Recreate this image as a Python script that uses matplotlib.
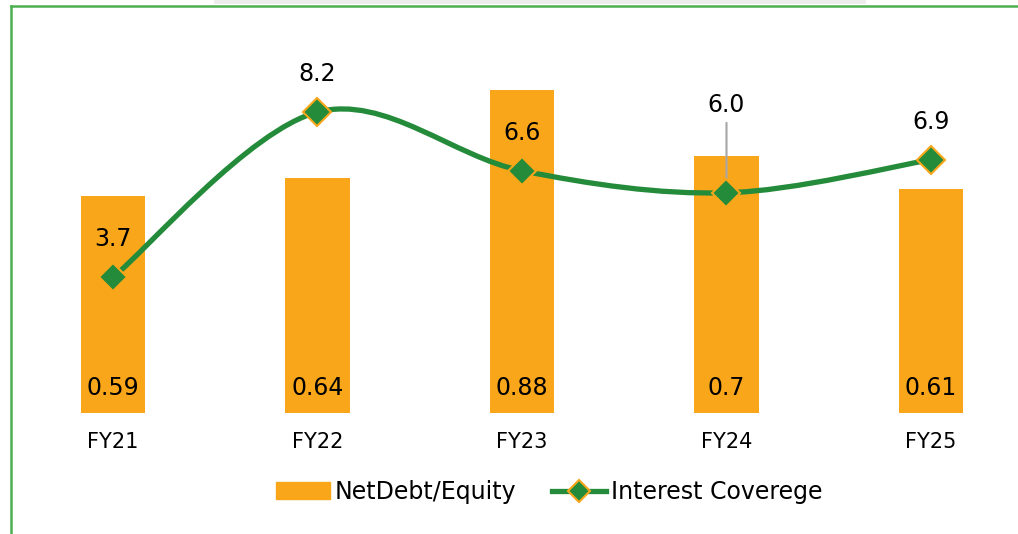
import numpy as np
import matplotlib.pyplot as plt
from matplotlib.path import Path
from matplotlib.patches import PathPatch, Patch, Rectangle
from matplotlib.lines import Line2D

# chart data
years = ["FY21", "FY22", "FY23", "FY24", "FY25"]
net_debt_equity = [0.59, 0.64, 0.88, 0.7, 0.61]
debt_labels = ["0.59", "0.64", "0.88", "0.7", "0.61"]
interest_cover = [3.7, 8.2, 6.6, 6.0, 6.9]

bar_color = "#F9A61A"
line_color = "#238B3A"

W, H = 1018, 534
fig = plt.figure(figsize=(W / 100, H / 100), dpi=100)

# axes placed so the category centres land where they are in the picture
ax = fig.add_axes([0, 1 - 413 / H, 1, (413 - 20) / H])
ax2 = ax.twinx()
x = np.arange(len(years))

ax.bar(x, net_debt_equity, width=0.313, color=bar_color, zorder=2)
ax.set_xlim(-113 / 204.5, (W - 113) / 204.5)
ax.set_ylim(0, 393 / 367)
ax2.set_ylim(0, 393 / 36.7)

for i, lab in enumerate(debt_labels):
    ax.annotate(lab, (x[i], 0), xytext=(0, 18), textcoords="offset points",
                ha="center", va="center", fontsize=17, color="black")

# smoothed line (Excel-style Catmull-Rom bezier through the points)
pts = np.column_stack([x, interest_cover]).astype(float)
verts = [pts[0]]
codes = [Path.MOVETO]
for i in range(len(pts) - 1):
    p0 = pts[i - 1] if i > 0 else pts[i]
    p1, p2 = pts[i], pts[i + 1]
    p3 = pts[i + 2] if i + 2 < len(pts) else pts[i + 1]
    verts += [p1 + (p2 - p0) / 6, p2 - (p3 - p1) / 6, p2]
    codes += [Path.CURVE4] * 3
ax2.add_patch(PathPatch(Path(verts, codes), facecolor="none", edgecolor=line_color,
                        lw=3.8, capstyle="round", zorder=3))
ax2.plot(x, interest_cover, ls="none", marker="D", ms=14, mfc=line_color,
         mec=bar_color, mew=1.5, zorder=4)

for i, v in enumerate(interest_cover):
    if years[i] == "FY24":
        ax2.annotate(f"{v:.1f}", (x[i], v), xytext=(0, 63), textcoords="offset points",
                     ha="center", va="center", fontsize=17,
                     arrowprops=dict(arrowstyle="-", color="#A6A6A6", lw=1.5,
                                     shrinkA=2, shrinkB=0))
    else:
        ax2.annotate(f"{v:.1f}", (x[i], v), xytext=(0, 27.5), textcoords="offset points",
                     ha="center", va="center", fontsize=17)

for a in (ax, ax2):
    for s in a.spines.values():
        s.set_visible(False)
    a.tick_params(left=False, right=False, bottom=False, labelleft=False, labelright=False)
ax.set_xticks(x)
ax.set_xticklabels(years, fontsize=15)
ax.tick_params(axis="x", pad=10)

handles = [Patch(color=bar_color),
           Line2D([0], [0], color=line_color, lw=3.8, marker="D", ms=11,
                  mfc=line_color, mec=bar_color, mew=1.5)]
fig.legend(handles, ["NetDebt/Equity", "Interest Coverege"], loc="center",
           bbox_to_anchor=(549 / W, 1 - 492 / H), ncol=2, frameon=False,
           fontsize=17, handlelength=2.3, handletextpad=0.2, columnspacing=1.5)

# frame lines and the grey strip at the top
fig.add_artist(Line2D([11 / W, 11 / W], [0, 1 - 6 / H], color="#4CAF50", lw=1.8))
fig.add_artist(Line2D([11 / W, 1], [1 - 6 / H, 1 - 6 / H], color="#4CAF50", lw=1.8))
fig.add_artist(Rectangle((214 / W, 1 - 4 / H), 652 / W, 4 / H, transform=fig.transFigure,
                         color="#EDEDED", lw=0))

fig.savefig("out.png", dpi=100)
